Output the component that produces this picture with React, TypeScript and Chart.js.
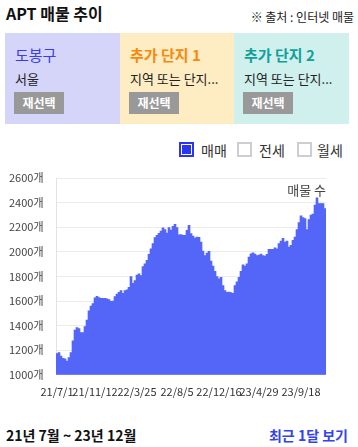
import React, { useEffect, useRef } from 'react';
import { Chart, registerables } from 'chart.js';

Chart.register(...registerables);

// Listing counts (매물 수), one bar per period, from 21/7/1 to 23/12
const values = [
  1172, 1180, 1153, 1134, 1130, 1112, 1139, 1180, 1276, 1363,
  1384, 1376, 1343, 1343, 1393, 1445, 1521, 1559, 1580, 1625,
  1638, 1627, 1621, 1621, 1621, 1618, 1611, 1597, 1600, 1635,
  1657, 1670, 1684, 1662, 1684, 1690, 1712, 1799, 1744, 1766,
  1810, 1820, 1807, 1880, 1902, 1930, 1979, 2025, 2066, 2115,
  2134, 2150, 2169, 2194, 2180, 2153, 2197, 2177, 2207, 2224,
  2197, 2137, 2140, 2134, 2134, 2175, 2216, 2148, 2128, 2112,
  2120, 2118, 2079, 2006, 1970, 1989, 2003, 1924, 1883, 1842,
  1799, 1780, 1793, 1725, 1684, 1671, 1673, 1668, 1662, 1725,
  1755, 1793, 1842, 1894, 1883, 1902, 1957, 1984, 1992, 1981,
  1970, 1973, 1981, 1970, 1965, 1979, 2020, 2020, 2020, 2033,
  2025, 2066, 2088, 2110, 2080, 2088, 2039, 2052, 2093, 2120,
  2180, 2238, 2292, 2278, 2270, 2180, 2262, 2298, 2306, 2379,
  2439, 2393, 2393, 2393, 2352,
];

const tickLabels = ['21/7/1', '21/11/12', '22/3/25', '22/8/5', '22/12/16', '23/4/29', '23/9/18'];
const tickIndex = [0, 19, 40, 60, 81, 101, 122];

const yMin = 1000;
const yMax = 2600;
const yStep = 200;

const categories = values.map((_, i) => {
  const j = tickIndex.indexOf(i);
  return j >= 0 ? tickLabels[j] : '';
});

const FONT = '"Noto Sans CJK KR", "Noto Sans", sans-serif';

const cornerTitle = {
  id: 'cornerTitle',
  afterDatasetsDraw(chart: any) {
    const { ctx, chartArea } = chart;
    ctx.save();
    ctx.font = '13px "Noto Sans CJK KR"';
    ctx.fillStyle = '#444';
    ctx.textAlign = 'right';
    ctx.textBaseline = 'middle';
    ctx.fillText('매물 수', chartArea.right, chartArea.top + 12);
    ctx.restore();
  },
};

const panels = [
  { title: '도봉구', sub: '서울', bg: '#d5d5fa', color: '#3b3bf0', left: 5, width: 115 },
  { title: '추가 단지 1', sub: '지역 또는 단지...', bg: '#feecc2', color: '#f7890f', left: 120, width: 114 },
  { title: '추가 단지 2', sub: '지역 또는 단지...', bg: '#d0f0ee', color: '#13a09a', left: 234, width: 115 },
];

const legendItems = [
  { label: '매매', checked: true, boxLeft: 179, textLeft: 201 },
  { label: '전세', checked: false, boxLeft: 237, textLeft: 259 },
  { label: '월세', checked: false, boxLeft: 297, textLeft: 317 },
];

export default function App() {
  const canvasRef = useRef<HTMLCanvasElement | null>(null);

  useEffect(() => {
    if (!canvasRef.current) return;
    const chart = new Chart(canvasRef.current, {
      type: 'bar',
      data: {
        labels: categories,
        datasets: [
          {
            label: '매매',
            data: values,
            backgroundColor: '#5466f8',
            borderWidth: 0,
            barPercentage: 1,
            categoryPercentage: 1,
          },
        ],
      },
      options: {
        animation: false,
        responsive: false,
        maintainAspectRatio: false,
        layout: { padding: { left: 9, right: 32, top: 13, bottom: 0 } },
        plugins: { legend: { display: false }, tooltip: { enabled: false }, title: { display: false } },
        scales: {
          x: {
            grid: { display: false, drawTicks: false },
            border: { display: false },
            ticks: {
              autoSkip: false,
              maxRotation: 0,
              minRotation: 0,
              padding: 10,
              color: '#333',
              font: { size: 11, family: FONT },
              callback: (_v: any, i: number) => categories[i],
            },
          },
          y: {
            min: yMin,
            max: yMax,
            grid: { color: '#ebebeb', drawTicks: false },
            border: { display: true, color: '#e2e2e2' },
            ticks: {
              stepSize: yStep,
              padding: 0,
              crossAlign: 'far',
              color: '#444',
              font: { size: 11, family: FONT },
              callback: (v: any) => `${v}개`,
            },
            afterFit: (scale: any) => {
              scale.width = 47;
            },
          },
        },
      },
      plugins: [cornerTitle],
    } as any);
    return () => chart.destroy();
  }, []);

  return (
    <div
      style={{
        position: 'absolute',
        left: 0,
        top: 0,
        width: 358,
        height: 447,
        background: '#fff',
        fontFamily: FONT,
        color: '#222',
        overflow: 'hidden',
      }}
    >
      <div style={{ position: 'absolute', left: 6, top: 3, fontSize: 16, lineHeight: '20px', fontWeight: 'bold', color: '#111' }}>
        APT 매물 추이
      </div>
      <div style={{ position: 'absolute', right: 4, top: 9, fontSize: 12, lineHeight: '16px', color: '#222' }}>
        ※ 출처 : 인터넷 매물
      </div>

      {panels.map((p) => (
        <div
          key={p.title}
          style={{ position: 'absolute', left: p.left, top: 33, width: p.width, height: 91, background: p.bg }}
        >
          <div style={{ position: 'absolute', left: 10, top: 13, fontSize: 15, lineHeight: '18px', color: p.color, fontWeight: p.left > 5 ? 'bold' : 'normal' }}>
            {p.title}
          </div>
          <div
            style={{
              position: 'absolute',
              left: 10,
              top: 37,
              fontSize: 13,
              lineHeight: '18px',
              color: '#222',
              whiteSpace: 'nowrap',
            }}
          >
            {p.sub}
          </div>
          <div
            style={{
              position: 'absolute',
              left: 9,
              top: 59,
              width: 50,
              height: 22,
              background: '#999',
              color: '#fff',
              fontSize: 12,
              fontWeight: 'bold',
              lineHeight: '22px',
              textAlign: 'center',
            }}
          >
            재선택
          </div>
        </div>
      ))}

      {legendItems.map((l) => (
        <React.Fragment key={l.label}>
          <div
            style={{
              position: 'absolute',
              left: l.boxLeft,
              top: 142,
              width: 15,
              height: 15,
              boxSizing: 'border-box',
              border: l.checked ? '2px solid #2a35f0' : '2px solid #cdcdd6',
              padding: 1,
              background: '#fff',
            }}
          >
            {l.checked ? <div style={{ width: '100%', height: '100%', background: '#2a35f0' }} /> : null}
          </div>
          <div style={{ position: 'absolute', left: l.textLeft, top: 141, fontSize: 14, lineHeight: '18px', color: '#333' }}>
            {l.label}
          </div>
        </React.Fragment>
      ))}

      <div style={{ position: 'absolute', left: 0, top: 165, width: 358, height: 243 }}>
        <canvas ref={canvasRef} width={358} height={243} style={{ width: 358, height: 243, display: 'block' }} />
      </div>

      <div style={{ position: 'absolute', left: 6, top: 426, fontSize: 14, lineHeight: '18px', fontWeight: 'bold', color: '#111' }}>
        21년 7월 ~ 23년 12월
      </div>
      <div style={{ position: 'absolute', right: 10, top: 426, fontSize: 14, lineHeight: '18px', fontWeight: 'bold', color: '#3344ee' }}>
        최근 1달 보기
      </div>
    </div>
  );
}
